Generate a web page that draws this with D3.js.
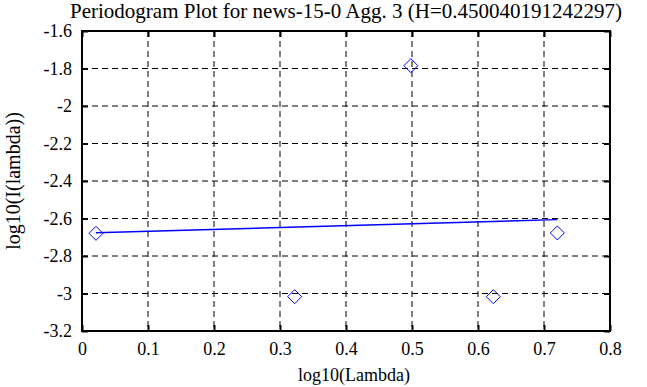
<!DOCTYPE html>
<html>
<head>
<meta charset="utf-8">
<script src="https://cdn.jsdelivr.net/npm/d3@7"></script>
<style>
  body { margin: 0; background: #fff; }
  svg { display: block; font-family: 'Liberation Serif', 'DejaVu Serif', serif; }
  .grid line { stroke: #000; stroke-width: 1; stroke-dasharray: 6 4; }
</style>
</head>
<body>
<svg width="647" height="387"></svg>
<script>
const title = 'Periodogram Plot for news-15-0 Agg. 3 (H=0.450040191242297)';
const xAxisLabel = 'log10(Lambda)';
const yAxisLabel = 'log10(I(lambda))';

// periodogram points
const logLambda = [0.0212, 0.3222, 0.4983, 0.6232, 0.7202];
const logI = [-2.679, -3.017, -1.785, -3.017, -2.677];

// fitted line end points
const fitX = [0.0212, 0.7202];
const fitY = [-2.676, -2.606];

const xTicks = [0, 0.1, 0.2, 0.3, 0.4, 0.5, 0.6, 0.7, 0.8];
const yTicks = [-1.6, -1.8, -2, -2.2, -2.4, -2.6, -2.8, -3, -3.2];

const svg = d3.select('svg');
const margin = { top: 31, right: 37, bottom: 56, left: 82 };
const innerWidth = 647 - margin.left - margin.right;
const innerHeight = 387 - margin.top - margin.bottom;

const xScale = d3.scaleLinear().domain([0, 0.8]).range([0, innerWidth]);
const yScale = d3.scaleLinear().domain([-3.2, -1.6]).range([innerHeight, 0]);

const g = svg.append('g')
  .attr('transform', `translate(${margin.left},${margin.top})`);

// grid
const grid = g.append('g').attr('class', 'grid');
grid.selectAll('.gx').data(xTicks.slice(1, -1))
  .enter().append('line')
    .attr('x1', d => xScale(d)).attr('x2', d => xScale(d))
    .attr('y1', 0).attr('y2', innerHeight);
grid.selectAll('.gy').data(yTicks.slice(1, -1))
  .enter().append('line')
    .attr('y1', d => yScale(d)).attr('y2', d => yScale(d))
    .attr('x1', 0).attr('x2', innerWidth);

const fmt = d => String(+d.toFixed(1));

const xAxis = d3.axisBottom(xScale).tickValues(xTicks).tickFormat(fmt)
  .tickSizeInner(-6).tickSizeOuter(0).tickPadding(11);
const yAxis = d3.axisLeft(yScale).tickValues(yTicks).tickFormat(fmt)
  .tickSizeInner(-6).tickSizeOuter(0).tickPadding(10);

const xAxisG = g.append('g').attr('transform', `translate(0,${innerHeight})`).call(xAxis);
const yAxisG = g.append('g').call(yAxis);
const xTopG = g.append('g').call(d3.axisTop(xScale).tickValues(xTicks).tickSizeInner(-6).tickSizeOuter(0));
const yRightG = g.append('g').attr('transform', `translate(${innerWidth},0)`)
  .call(d3.axisRight(yScale).tickValues(yTicks).tickSizeInner(-6).tickSizeOuter(0));
xTopG.selectAll('.tick text').remove();
yRightG.selectAll('.tick text').remove();

[xAxisG, yAxisG, xTopG, yRightG].forEach(a => {
  a.selectAll('.domain').remove();
  a.selectAll('.tick line').attr('stroke', '#000').attr('stroke-width', 2);
  a.selectAll('.tick text')
    .attr('fill', '#000')
    .style('font-family', "'Liberation Serif', serif")
    .style('font-size', '18px');
});

g.append('rect')
  .attr('width', innerWidth).attr('height', innerHeight)
  .attr('fill', 'none').attr('stroke', '#000').attr('stroke-width', 2);

// fit line
g.append('line')
  .attr('x1', xScale(fitX[0])).attr('y1', yScale(fitY[0]))
  .attr('x2', xScale(fitX[1])).attr('y2', yScale(fitY[1]))
  .attr('stroke', '#0000ff').attr('stroke-width', 1.5);

// diamonds
g.selectAll('.pt').data(logLambda)
  .enter().append('path')
    .attr('class', 'pt')
    .attr('d', 'M0,-7L7,0L0,7L-7,0Z')
    .attr('transform', (d, i) => `translate(${xScale(d)},${yScale(logI[i])})`)
    .attr('fill', 'none').attr('stroke', '#0000ff').attr('stroke-width', 1);

svg.append('text')
  .attr('x', margin.left + innerWidth / 2).attr('y', 18)
  .attr('text-anchor', 'middle').attr('font-size', 21)
  .text(title);

svg.append('text')
  .attr('x', margin.left + innerWidth / 2 + 8).attr('y', 381)
  .attr('text-anchor', 'middle').attr('font-size', 18)
  .text(xAxisLabel);

svg.append('text')
  .attr('transform', `translate(20,${margin.top + innerHeight / 2}) rotate(-90)`)
  .attr('text-anchor', 'middle').attr('font-size', 20)
  .text(yAxisLabel);
</script>
</body>
</html>
